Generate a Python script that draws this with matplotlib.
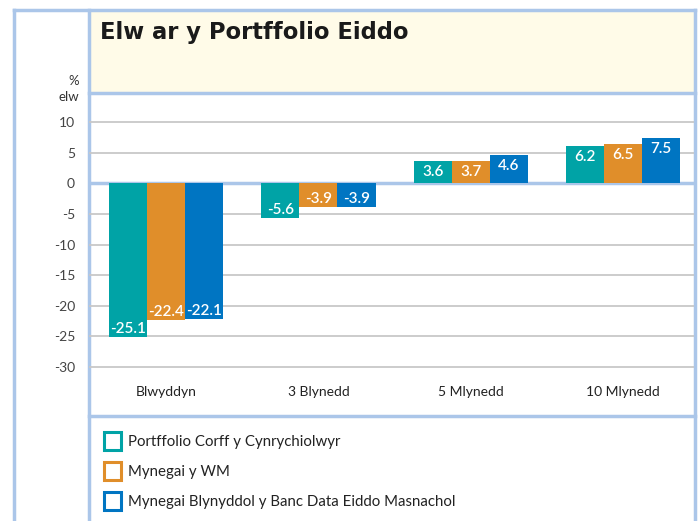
import matplotlib.pyplot as plt
from matplotlib.patches import Rectangle
import numpy as np

plt.rcParams['font.family'] = ['Lato', 'DejaVu Sans']

categories = ['Blwyddyn', '3 Blynedd', '5 Mlynedd', '10 Mlynedd']
series_names = ['Portffolio Corff y Cynrychiolwyr', 'Mynegai y WM',
                'Mynegai Blynyddol y Banc Data Eiddo Masnachol']
portffolio = [-25.1, -5.6, 3.6, 6.2]
mynegai_wm = [-22.4, -3.9, 3.7, 6.5]
mynegai_banc = [-22.1, -3.9, 4.6, 7.5]
yticks = [10, 5, 0, -5, -10, -15, -20, -25, -30]

colors = ['#00a3a6', '#e08e2a', '#0075c2']
frame = '#abc6e9'
W, H = 700, 521

fig = plt.figure(figsize=(7, 5.21), dpi=100)

# background / frame axes in pixel coordinates
bg = fig.add_axes([0, 0, 1, 1])
bg.set_xlim(0, W)
bg.set_ylim(H, 0)
bg.axis('off')
bg.add_patch(Rectangle((89, 11), 605, 82, facecolor='#fffbe8', edgecolor='none'))
bg.plot([14, 14], [10, H], color=frame, lw=2.5)
bg.plot([14, 695], [10, 10], color=frame, lw=2.5)
bg.plot([694.5, 694.5], [10, H], color=frame, lw=2.5)
bg.plot([89, 89], [10, H], color=frame, lw=2.5)
bg.plot([89, 695], [93, 93], color=frame, lw=2.5)
bg.plot([89, 695], [416, 416], color=frame, lw=2.5)
bg.text(100, 32, 'Elw ar y Portffolio Eiddo', fontsize=16.3, fontweight='bold',
        family='DejaVu Sans', color='#1a1a1a', va='center', ha='left')
bg.text(79, 81, '%', fontsize=9.5, color='#333333', ha='right', va='center')
bg.text(79, 97, 'elw', fontsize=9.5, color='#333333', ha='right', va='center')

# legend as hollow squares
for i, name in enumerate(series_names):
    yc = 441 + i * 30
    bg.add_patch(Rectangle((104, yc - 9), 17, 18, facecolor='white',
                           edgecolor=colors[i], lw=2.2))
    bg.text(128, yc + 1, name, fontsize=10.8, color='#222222', va='center', ha='left')

# main chart axes
ax = fig.add_axes([89 / W, 1 - 373 / H, 605 / W, (373 - 93) / H])
ax.set_facecolor('none')
x = np.arange(len(categories))
w = 0.25
for i, vals in enumerate([portffolio, mynegai_wm, mynegai_banc]):
    xs = x + (i - 1) * w
    ax.bar(xs, vals, width=w, color=colors[i], zorder=3)
    for xi, v in zip(xs, vals):
        off = 8 if v < 0 else -11
        ax.annotate('{:.1f}'.format(v), (xi, v), xytext=(0, off),
                    textcoords='offset pixels', ha='center', va='center',
                    color='white', fontsize=11, fontweight='semibold', zorder=4)

ax.set_xlim(-0.506, 3.466)
ax.set_ylim(-31, 14.8)
ax.set_yticks(yticks)
ax.set_yticklabels([str(t) for t in yticks])
ax.set_xticks(x)
ax.set_xticklabels(categories)
ax.tick_params(axis='y', length=0, pad=10, labelsize=10, labelcolor='#444444')
ax.tick_params(axis='x', length=0, pad=9, labelsize=10, labelcolor='#222222')
for t in yticks:
    if t != 0:
        ax.axhline(t, color='#c8c8c8', lw=1.3, zorder=1)
ax.axhline(0, color=frame, lw=2.5, zorder=2)
for s in ax.spines.values():
    s.set_visible(False)

fig.savefig('out.png', dpi=100)
